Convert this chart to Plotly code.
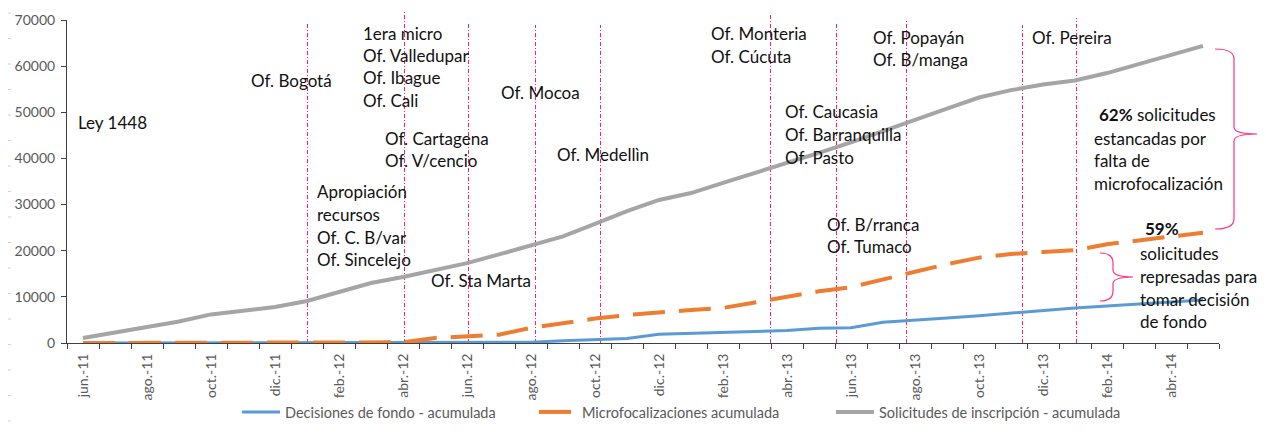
import plotly.graph_objects as go

# ---------------- data ----------------
months = ["jun.-11", "jul.-11", "ago.-11", "sep.-11", "oct.-11", "nov.-11", "dic.-11",
          "ene.-12", "feb.-12", "mar.-12", "abr.-12", "may.-12", "jun.-12", "jul.-12",
          "ago.-12", "sep.-12", "oct.-12", "nov.-12", "dic.-12", "ene.-13", "feb.-13",
          "mar.-13", "abr.-13", "may.-13", "jun.-13", "jul.-13", "ago.-13", "sep.-13",
          "oct.-13", "nov.-13", "dic.-13", "ene.-14", "feb.-14", "mar.-14", "abr.-14", "may.-14"]

decisiones = [0, 0, 0, 0, 0, 0, 0, 0, 0, 0, 0, 0, 50, 80, 150, 500, 800, 1000,
              1900, 2100, 2300, 2500, 2700, 3200, 3300, 4500, 4900, 5400, 5900, 6500,
              7050, 7600, 8000, 8450, 8900, 9300]

microfocalizaciones = [0, 0, 0, 0, 0, 0, 0, 0, 0, 0, 150, 1100, 1500, 1800, 3300, 4400,
                       5300, 6050, 6700, 7150, 7600, 8850, 10000, 11200, 12100, 13800,
                       15500, 17100, 18500, 19300, 19700, 20100, 21400, 22300, 23200, 23900]

solicitudes = [1100, 2250, 3450, 4650, 6200, 7100, 7800, 9100, 11000, 13000, 14300,
               15900, 17300, 19200, 21100, 23100, 25800, 28600, 31000, 32500, 34700,
               36800, 39000, 41200, 43500, 46000, 48500, 50800, 53200, 54800, 56000,
               56900, 58500, 60500, 62400, 64400]

series_names = ["Decisiones de fondo - acumulada", "Microfocalizaciones acumulada",
                "Solicitudes de inscripción - acumulada"]

# event markers (month index on the category axis)
event_x = [7.016, 10.047, 12.047, 14.141, 16.172, 21.484, 23.547, 25.734, 29.359, 31.047]

# ---------------- geometry helpers (decoration) ----------------
# page has an 8px body margin; plot area in page px: x 67..1219, y 20..343
OFF = 8
W, H = 1250, 425
PX0, PX1, PY0, PY1 = 67, 1219, 20, 343
ML, MR = PX0 - OFF, W - (PX1 - OFF)
MT, MB = PY0 - OFF, H - (PY1 - OFF)
PW, PH = PX1 - PX0, PY1 - PY0


def px(xp):
    return (xp - PX0) / PW


def py(yp):
    return (PY1 - yp) / PH


FONT = "Lato"
fig = go.Figure()

xs = list(range(len(months)))
fig.add_trace(go.Scatter(x=xs, y=decisiones, name=series_names[0],
                         mode="lines", line=dict(color="#5B9BD5", width=3)))
fig.add_trace(go.Scatter(x=xs, y=microfocalizaciones, name=series_names[1],
                         mode="lines", line=dict(color="#ED7D31", width=4, dash="32px,14px")))
fig.add_trace(go.Scatter(x=xs, y=solicitudes, name=series_names[2],
                         mode="lines", line=dict(color="#A5A5A5", width=4)))

# vertical event lines
tops = [22, 10, 23, 25, 25, 15, 23, 20, 25, 18]
for ex, tp in zip(event_x, tops):
    fig.add_shape(type="line", xref="x", yref="paper", x0=ex, x1=ex, y0=0, y1=py(tp),
                  line=dict(color="#FF1A75", width=1, dash="4px,2px,1px,2px"), layer="below")

# annotations (label lines, left px, first line centre px)
labels = [
    (["Ley 1448"], 76, 122),
    (["Of. Bogotá"], 249, 80),
    (["Apropiación", "recursos", "Of. C. B/var", "Of. Sincelejo"], 315, 192),
    (["1era micro", "Of. Valledupar", "Of. Ibague", "Of. Cali"], 361, 33),
    (["Of. Cartagena", "Of. V/cencio"], 383, 138),
    (["Of. Sta Marta"], 429, 280),
    (["Of. Mocoa"], 499, 93),
    (["Of. Medellìn"], 555, 154),
    (["Of. Monteria", "Of. Cúcuta"], 709, 34),
    (["Of. Caucasia", "Of. Barranquilla", "Of. Pasto"], 783, 112),
    (["Of. B/rranca", "Of. Tumaco"], 825, 224),
    (["Of. Popayán", "Of. B/manga"], 871, 37),
    (["Of. Pereira"], 1030, 37),
    (["<b>62%</b> solicitudes"], 1097, 115),
    (["estancadas por", "falta de", "microfocalización"], 1092, 138),
    (["<b>59%</b>"], 1143, 229),
    (["solicitudes", "represadas para", "tomar decisión", "de fondo"], 1138, 254),
]
LS = 22.5
for lines, xl, y0 in labels:
    for k, t in enumerate(lines):
        fig.add_annotation(text=t, xref="paper", yref="paper", x=px(xl), y=py(y0 + k * LS),
                           xanchor="left", yanchor="middle", showarrow=False,
                           font=dict(family=FONT, size=17, color="#111111"))


def brace(xh, xs_, xt, yt, ym, yb):
    pts = [
        f"M{px(xh)},{py(yt)}",
        f"Q{px(xs_)},{py(yt)} {px(xs_)},{py(yt + 10)}",
        f"L{px(xs_)},{py(ym - 7)}",
        f"Q{px(xs_)},{py(ym)} {px(xt)},{py(ym)}",
        f"Q{px(xs_)},{py(ym)} {px(xs_)},{py(ym + 7)}",
        f"L{px(xs_)},{py(yb - 10)}",
        f"Q{px(xs_)},{py(yb)} {px(xh)},{py(yb)}",
    ]
    return " ".join(pts)


fig.add_shape(type="path", xref="paper", yref="paper", path=brace(1215, 1234, 1257, 49, 134, 229),
              line=dict(color="#FF3385", width=1.2))
fig.add_shape(type="path", xref="paper", yref="paper", path=brace(1100, 1113, 1133, 253, 277, 301),
              line=dict(color="#FF3385", width=1.2))

# faint dashes at far left
for k in range(17):
    yy = 13 + 25.5 * k
    fig.add_shape(type="line", xref="paper", yref="paper", x0=px(8), x1=px(11), y0=py(yy), y1=py(yy),
                  line=dict(color="#D0D0D0", width=1))

fig.update_layout(
    width=W, height=H,
    margin=dict(l=ML, r=MR, t=MT, b=MB, pad=0, autoexpand=False),
    paper_bgcolor="white", plot_bgcolor="white",
    font=dict(family=FONT, color="#595959"),
    showlegend=True,
    legend=dict(orientation="h", xref="container", yref="container",
                x=(237 - OFF) / W, y=1 - (412 - OFF) / H, xanchor="left", yanchor="middle",
                font=dict(family=FONT, size=14.5, color="#595959"), entrywidth=244, itemwidth=38,
                bgcolor="rgba(0,0,0,0)"),
    xaxis=dict(range=[-0.5, 35.5], tickmode="array", automargin=False,
               tickvals=list(range(0, len(months), 2)), ticktext=months[0::2],
               tickangle=-90, ticks="", showgrid=False, zeroline=False, ticklabelstandoff=4,
               showline=True, linecolor="#404040", linewidth=1,
               tickfont=dict(family=FONT, size=14, color="#595959"),
               minor=dict(tickmode="array", tickvals=[k - 0.5 for k in range(37)],
                          ticks="outside", ticklen=5, tickcolor="#404040", showgrid=False)),
    yaxis=dict(range=[0, 70000], tickmode="linear", dtick=10000, tick0=0, tickformat="d",
               automargin=False, ticklabelstandoff=3,
               ticks="outside", ticklen=5, tickcolor="#404040", showgrid=False, zeroline=False,
               showline=True, linecolor="#404040", linewidth=1,
               tickfont=dict(family=FONT, size=14, color="#595959")),
)

fig.write_html("out.html")
